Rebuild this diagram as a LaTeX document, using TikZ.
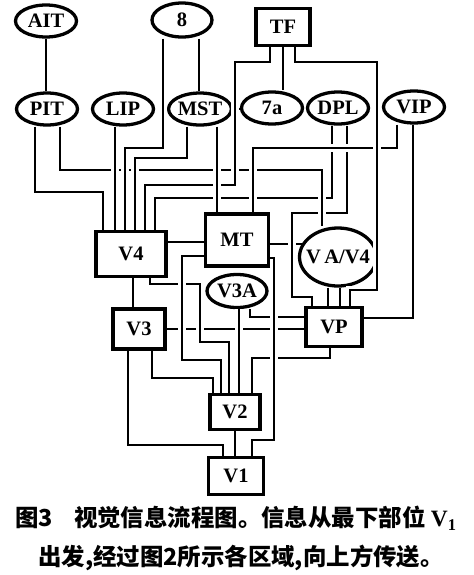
\documentclass[tikz,border=0pt]{standalone}
\usepackage{fontspec}
\setmainfont{Liberation Serif}
\newfontfamily\cjkfont{Noto Sans CJK SC}
\usetikzlibrary{positioning, calc, shapes.geometric}

\newcommand{\areafont}{\fontsize{17.5}{18}\selectfont\bfseries}
\newcommand{\capfont}{\fontsize{20}{22}\selectfont\cjkfont\bfseries}

\begin{document}
\begin{tikzpicture}[x=0.03cm, y=-0.03cm,
  area/.style={ellipse, draw, line width=2.8pt, fill=white, minimum width=1.83cm, minimum height=0.96cm, inner sep=0pt, font=\areafont},
  box/.style={rectangle, draw, line width=2.8pt, fill=white, inner sep=0pt, font=\areafont},
  wire/.style={line width=2.1pt},
  jump/.style={wire, preaction={draw=white, line width=6pt}}
]
\useasboundingbox (0,0) rectangle (474,575);

% visual areas
\node[area] (AIT) at (46,21) {AIT};
\node[area, minimum width=1.8cm, minimum height=1.02cm] (A8) at (182,20) {8};
\node[box, minimum width=1.62cm, minimum height=1.11cm] (TF) at (283,27) {TF};
\node[area] (PIT) at (47,109) {PIT};
\node[area] (LIP) at (123,109) {LIP};
\node[area] (MST) at (200,109) {MST};
\node[area] (A7a) at (272,108) {7a};
\node[area] (DPL) at (338,108) {DPL};
\node[area] (VIP) at (414,107) {VIP};
\node[box, minimum width=2.1cm, minimum height=1.35cm] (V4) at (131,254) {V4};
\node[box, minimum width=1.89cm, minimum height=1.56cm] (MT) at (237,240) {MT};
\node[area, minimum width=2.31cm, minimum height=1.74cm, inner xsep=-8pt] (VAV4) at (338,257) {V\,A/V4};
\node[area, minimum width=1.8cm, minimum height=0.99cm] (V3A) at (237,291) {V3A};
\node[box, minimum width=1.56cm, minimum height=1.2cm] (V3) at (139,329) {V3};
\node[box, minimum width=1.68cm, minimum height=1.17cm] (VP) at (334,327) {VP};
\node[box, minimum width=1.5cm, minimum height=1.05cm] (V2) at (235,412) {V2};
\node[box, minimum width=1.65cm, minimum height=1.11cm] (V1) at (236,476) {V1};

% short links
\draw[wire] (AIT.south) -- (AIT.south |- PIT.north);
\draw[wire] (199,0 |- A8.south) -- (199,0 |- MST.north);
\draw[wire] (MST.east) -- (MST.east -| A7a.west);
\draw[wire] (283,0 |- TF.south) -- (283,0 |- A7a.north);
\draw[wire] (35,0 |- PIT.south) |- (103,192) -- (103,0 |- V4.north);
\draw[wire] (413,0 |- VIP.south) |- (VP.east |- 0,318);
\draw[wire] (V4.east |- 0,242) -- (MT.west |- 0,242);
\draw[wire] (MT.east |- VAV4.160) -- (VAV4.160);
\draw[wire] (328,0 |- VAV4.south) -- (328,0 |- VP.north);
\draw[wire] (340,0 |- VAV4.south) -- (340,0 |- VP.north);
\draw[wire] (133,0 |- V4.south) -- (133,0 |- V3.north);
\draw[wire] (235,0 |- V2.south) -- (235,0 |- V1.north);
\draw[wire] (128,0 |- V3.south) |- (223,445) -- (223,0 |- V1.north);
\draw[wire] (152,0 |- V3.south) |- (213,378) -- (213,0 |- V2.north);
\draw[wire] (V3.east) -- (V3.east -| VP.west);

% upper pathways, later lines pass over earlier ones
\draw[jump] (332,0 |- DPL.south) |- (155,198) -- (155,0 |- V4.north);
\draw[jump] (347,0 |- DPL.south) |- (292,213) |- (312,297) -- (312,0 |- VP.north);
\draw[jump] (60,0 |- PIT.south) |- (322,170) -- (322,0 |- VAV4.north);
\draw[jump] (397,0 |- VIP.south) |- (253,148) -- (253,0 |- MT.north);
\draw[jump] (295,0 |- TF.south) |- (377,62) |- (350,290) -- (350,0 |- VP.north);
\draw[jump] (270,0 |- TF.south) |- (235,62) |- (145,185) -- (145,0 |- V4.north);
\draw[jump] (217,0 |- MST.south) -- (217,0 |- MT.north);
\draw[jump] (115,0 |- LIP.south) -- (115,0 |- V4.north);
\draw[jump] (163,0 |- A8.south) |- (125,148) -- (125,0 |- V4.north);
\draw[jump] (187,0 |- MST.south) |- (135,158) -- (135,0 |- V4.north);

% lower pathways
\draw[jump] (150,0 |- V4.south) |- (200,284) |- (229,342) -- (229,0 |- V2.north);
\draw[jump] (MT.west |- 0,256) -| (182,360) -| (221,0 |- V2.north);
\draw[jump] (239,0 |- V3A.south) -- (239,0 |- V2.north);
\draw[jump] (250,0 |- V3A.south) |- (VP.west |- 0,317);
\draw[jump] (330,0 |- VP.south) |- (252,358) -- (252,0 |- V2.north);
\draw[jump] (MT.east |- 0,258) -| (274,440) -| (252,0 |- V1.north);

% caption
\node[font=\capfont] (cap1) at (236,518) {图3\hspace{0.9em}视觉信息流程图。信息从最下部位 {\rmfamily V\textsubscript{1}}};
\node[font=\capfont] (cap2) at (241,558) {出发,经过图2所示各区域,向上方传送。};
\end{tikzpicture}
\end{document}
